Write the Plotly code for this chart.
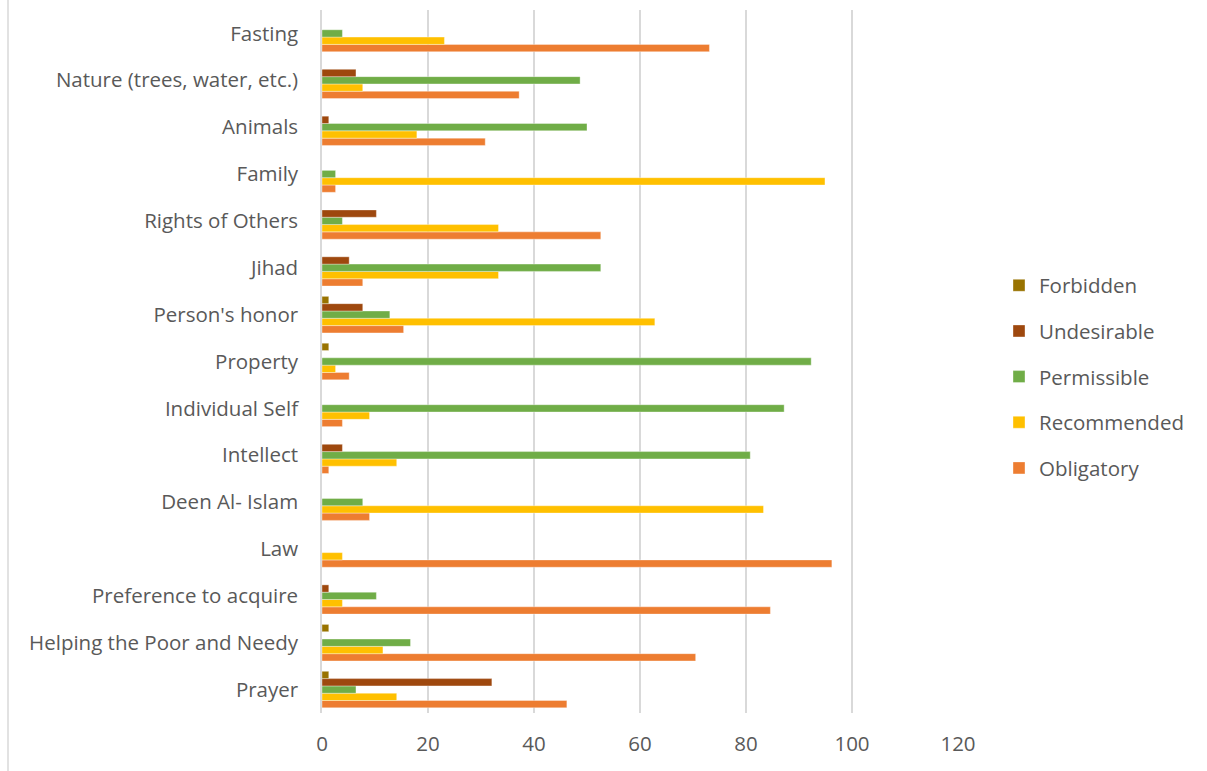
import plotly.graph_objects as go

# categories listed bottom -> top as drawn
categories = ["Prayer", "Helping the Poor and Needy", "Preference to acquire", "Law",
              "Deen Al- Islam", "Intellect", "Individual Self", "Property",
              "Person's honor", "Jihad", "Rights of Others", "Family", "Animals",
              "Nature (trees, water, etc.)", "Fasting"]

obligatory  = [46.2, 70.5, 84.6, 96.2, 8.97, 1.28, 3.85, 5.13, 15.4, 7.69, 52.6, 2.56, 30.8, 37.2, 73.1]
recommended = [14.1, 11.5, 3.85, 3.85, 83.3, 14.1, 8.97, 2.56, 62.8, 33.3, 33.3, 94.9, 17.9, 7.69, 23.1]
permissible = [6.41, 16.7, 10.26, 0, 7.69, 80.8, 87.2, 92.3, 12.8, 52.6, 3.85, 2.56, 50.0, 48.7, 3.85]
undesirable = [32.05, 0, 1.28, 0, 0, 3.85, 0, 0, 7.69, 5.13, 10.26, 0, 1.28, 6.41, 0]
forbidden   = [1.28, 1.28, 0, 0, 0, 0, 0, 1.28, 1.28, 0, 0, 0, 0, 0, 0]

series = [("Obligatory", obligatory, "#ED7D31"),
          ("Recommended", recommended, "#FFC000"),
          ("Permissible", permissible, "#70AD47"),
          ("Undesirable", undesirable, "#9E480E"),
          ("Forbidden", forbidden, "#997300")]

text_color = "#595959"
font_family = "Open Sans"
fs = 20.5

fig = go.Figure()
n = len(series)
for i, (name, vals, color) in enumerate(series):
    fig.add_trace(go.Bar(
        y=categories, x=vals, name=name, orientation="h",
        marker=dict(color=color, line=dict(color="rgba(255,255,255,0.6)", width=0.6)),
        legendgroup=name, legendrank=(n - i) * 10,
    ))

fig.update_layout(
    width=1207, height=771,
    margin=dict(l=322, r=249, t=10, b=58),
    paper_bgcolor="white", plot_bgcolor="white",
    barmode="group", bargap=0.22, bargroupgap=0,
    font=dict(family=font_family, size=fs, color=text_color),
    legend=dict(
        traceorder="grouped", x=1 + 41/636, xanchor="left",
        y=0.478, yanchor="middle",
        font=dict(family=font_family, size=fs, color=text_color),
        tracegroupgap=16, itemwidth=30,
    ),
    xaxis=dict(
        range=[0, 120], dtick=20, tick0=0,
        showgrid=True, gridcolor="#D9D9D9", gridwidth=1.5,
        zeroline=False, showline=False,
        ticks="outside", ticklen=12, tickcolor="rgba(0,0,0,0)",
        tickfont=dict(family=font_family, size=fs, color=text_color),
        fixedrange=True,
    ),
    yaxis=dict(
        type="category", categoryorder="array", categoryarray=categories,
        showgrid=False, showline=True, linecolor="#D9D9D9", linewidth=1.5,
        ticks="outside", ticklen=18, tickcolor="rgba(0,0,0,0)",
        tickfont=dict(family=font_family, size=fs, color=text_color),
        fixedrange=True,
    ),
    shapes=[dict(type="line", xref="paper", yref="paper", x0=-314/636, x1=-314/636,
                 y0=-58/703, y1=1 + 10/703, line=dict(color="#D9D9D9", width=1.5))],
)

fig.write_html("out.html")
